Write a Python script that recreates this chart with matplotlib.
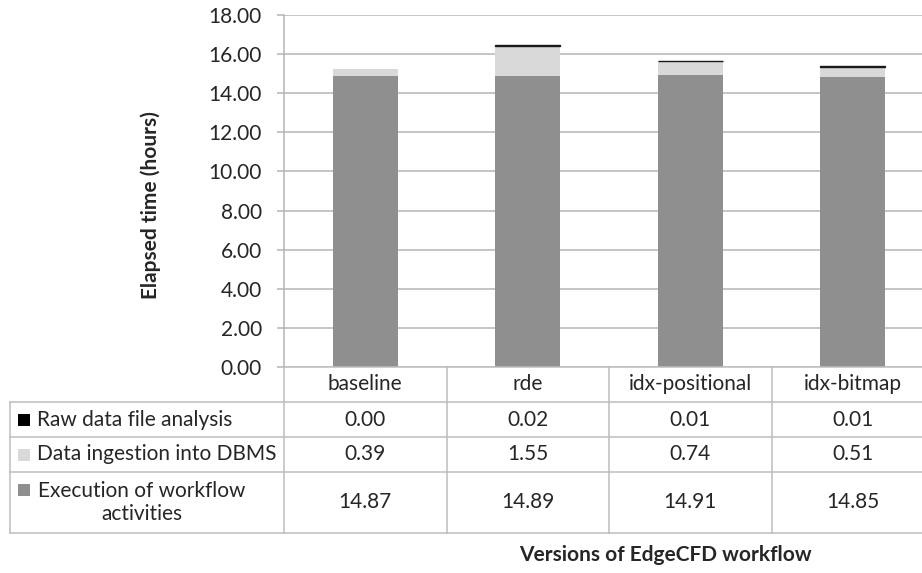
import matplotlib
matplotlib.use("Agg")
import matplotlib.pyplot as plt
import matplotlib.transforms as mtransforms
from matplotlib.patches import Rectangle
from matplotlib.lines import Line2D
import numpy as np

plt.rcParams['font.family'] = ['Lato', 'DejaVu Sans']

categories = ["baseline", "rde", "idx-positional", "idx-bitmap"]
series_names = ["Raw data file analysis", "Data ingestion into DBMS",
                "Execution of workflow\nactivities"]
raw_analysis = [0.00, 0.02, 0.01, 0.01]
ingestion = [0.39, 1.55, 0.74, 0.51]
execution = [14.87, 14.89, 14.91, 14.85]
yticks = [0, 2, 4, 6, 8, 10, 12, 14, 16, 18]

W, H = 922, 573
fig = plt.figure(figsize=(W / 100, H / 100), dpi=100)
FS = 15

def fx(px):
    return px / W

def fy(py):
    return 1 - py / H

ax_left, ax_right, ax_top, ax_bottom = 284, 934, 15, 367
ax = fig.add_axes([fx(ax_left), fy(ax_bottom), fx(ax_right - ax_left), fy(ax_top) - fy(ax_bottom)])

txt = '#262626'
grid = '#b5b5b5'
c_exec, c_ing, c_raw = '#8f8f8f', '#d9d9d9', '#000000'

x = np.arange(len(categories))
bw = 0.4
ax.bar(x, execution, bw, color=c_exec, zorder=3)
bottom2 = np.array(execution)
ax.bar(x, ingestion, bw, bottom=bottom2, color=c_ing, zorder=3)
bottom3 = bottom2 + np.array(ingestion)
lw = [1.0 if v > 0 else 0 for v in raw_analysis]
ax.bar(x, raw_analysis, bw, bottom=bottom3, color=c_raw, edgecolor='#1a1a1a',
       linewidth=lw, zorder=3)

ax.set_xlim(-0.5, len(categories) - 0.5)
ax.set_ylim(0, 18)
ax.set_yticks(yticks)
ax.set_yticklabels([f"{v:.2f}" for v in yticks], fontsize=FS, color=txt)
ax.tick_params(axis='y', length=5, width=1.1, color=grid, pad=11)
ax.set_xticks([])
ax.yaxis.grid(True, color=grid, linewidth=1.1, zorder=0)
for s in ['top', 'right', 'bottom']:
    ax.spines[s].set_visible(False)
ax.spines['left'].set_color(grid)
ax.spines['left'].set_linewidth(1.1)
fig.text(fx(151), fy(205), "Elapsed time (hours)", rotation=90, ha='center', va='center',
         fontsize=FS, fontweight='bold', color=txt)

# data table drawn below the axes
blend = mtransforms.blended_transform_factory(ax.transData, fig.transFigure)
row_y = [367, 402, 437, 472, 533]
tbl_left = 10
lc = '#bdbdbd'
tl = 1.1
for i, yy in enumerate(row_y):
    x0 = ax_left if i == 0 else tbl_left
    fig.add_artist(Line2D([fx(x0), 1.0], [fy(yy), fy(yy)], transform=fig.transFigure,
                          color=lc, linewidth=tl))
fig.add_artist(Line2D([fx(tbl_left), fx(tbl_left)], [fy(402), fy(533)],
                      transform=fig.transFigure, color=lc, linewidth=tl))
for b in np.arange(len(categories) + 1) - 0.5:
    fig.add_artist(Line2D([b, b], [fy(367), fy(533)], transform=blend,
                          color=lc, linewidth=tl, clip_on=False))

for xi, cat in zip(x, categories):
    fig.text(xi, fy((367 + 402) / 2), cat, transform=blend, ha='center', va='center',
             fontsize=FS, color=txt)

rows = [raw_analysis, ingestion, execution]
colors = [c_raw, c_ing, c_exec]
for r, (vals, name, col) in enumerate(zip(rows, series_names, colors)):
    y0, y1 = row_y[r + 1], row_y[r + 2]
    yc = fy((y0 + y1) / 2)
    for xi, v in zip(x, vals):
        fig.text(xi, yc, f"{v:.2f}", transform=blend, ha='center', va='center',
                 fontsize=FS, color=txt)
    fig.add_artist(Rectangle((fx(18), fy(y0 + 24)), fx(12), fy(y0 + 12) - fy(y0 + 24),
                             transform=fig.transFigure, facecolor=col, edgecolor='none'))
    if "\n" in name:
        fig.text(fx(142), yc, name, ha='center', va='center', fontsize=FS, color=txt,
                 multialignment='center', linespacing=1.2)
    else:
        fig.text(fx(37), yc, name, ha='left', va='center', fontsize=FS, color=txt)

fig.text(fx(665), fy(555), "Versions of EdgeCFD workflow", ha='center', va='center',
         fontsize=FS, fontweight='bold', color=txt)

fig.savefig("out.png", dpi=100)
